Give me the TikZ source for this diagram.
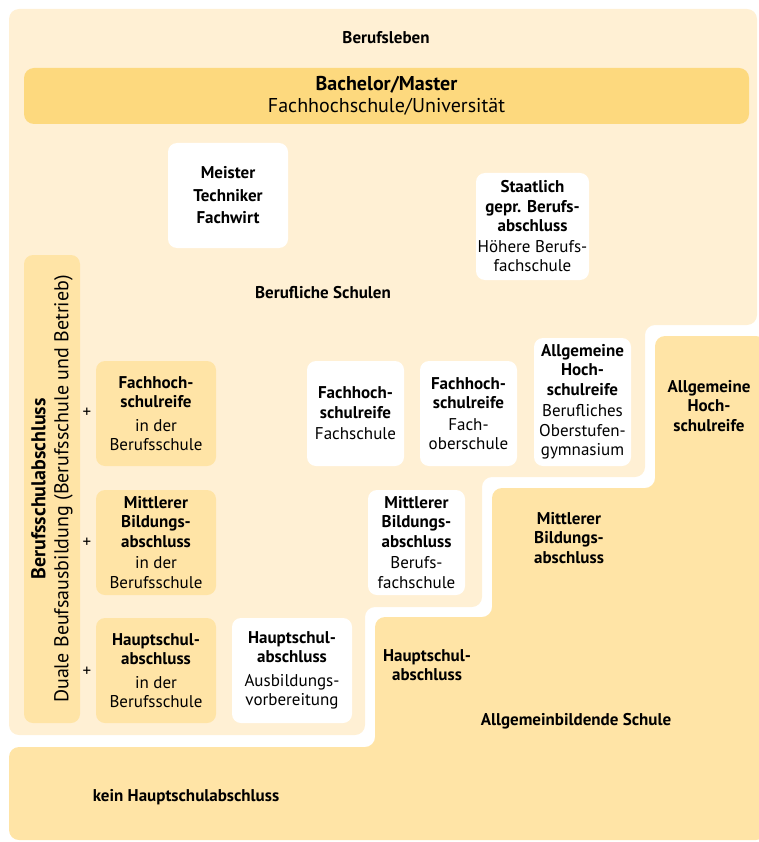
\documentclass[tikz,border=0pt]{standalone}
\usepackage{fontspec}
\setmainfont{PT Sans}
\usetikzlibrary{positioning}
\definecolor{lightbg}{HTML}{FFF0D4}
\definecolor{darkbg}{HTML}{FFE4A6}
\definecolor{bachelor}{HTML}{FDD97E}
\begin{document}
\begin{tikzpicture}[x=1pt,y=-1pt,on grid,
    font=\fontsize{17}{19.5}\selectfont,
    every node/.style={align=center,inner sep=0pt},
    whitebox/.style={fill=white,rounded corners=9pt,minimum width=97pt,minimum height=105pt},
    yellowbox/.style={whitebox,fill=darkbg,minimum width=120pt},
    bigtext/.style={font=\fontsize{20}{22}\selectfont},
    areatext/.style={font=\fontsize{17}{19.5}\selectfont\bfseries}]
  \useasboundingbox (0,0) rectangle (759,842);
  \fill[lightbg,rounded corners=10pt] (9,9) -- (757,9) -- (757,325) -- (645,325) -- (645,477)
    -- (482,477) -- (482,607) -- (365,607) -- (365,735) -- (9,735) -- cycle;
  \fill[darkbg,rounded corners=10pt] (375,617) -- (492,617) -- (492,488) -- (655,488) -- (655,336)
    -- (766,336) -- (766,840) -- (9,840) -- (9,747) -- (375,747) -- cycle;

  \node[areatext] (leben) at (386,38) {Berufsleben};
  \node[bigtext,fill=bachelor,rounded corners=10pt,minimum width=725pt,minimum height=56pt] (bama) at (386.5,96)
    {\textbf{Bachelor/Master}\\Fachhochschule/Universität};
  \node[whitebox,minimum width=120pt] (meister) at (228,195.5)
    {\textbf{Meister}\\[3pt]\textbf{Techniker}\\[3pt]\textbf{Fachwirt}};
  \node[whitebox,minimum width=113pt,minimum height=107pt] (staatl) at (532.5,226.5)
    {\textbf{Staatlich}\\\textbf{gepr. Berufs-}\\\textbf{abschluss}\\[1pt]Höhere Berufs-\\fachschule};
  \node[areatext] (schulen) at (323,293) {Berufliche Schulen};

  \node[yellowbox,bigtext,minimum width=468pt,minimum height=56pt,rotate=90] (duale) at (52,489)
    {\textbf{Berufsschulabschluss}\\[1pt]Duale Beufsausbildung (Berufsschule und Betrieb)};
  \node[yellowbox] (fhr1) at (156,413.5) {\textbf{Fachhoch-}\\\textbf{schulreife}\\[4pt]in der\\Berufsschule};
  \node[yellowbox] (mbr1) [below=129pt of fhr1] {\textbf{Mittlerer}\\\textbf{Bildungs-}\\\textbf{abschluss}\\[2pt]in der\\Berufsschule};
  \node[yellowbox] (hsr1) [below=128pt of mbr1] {\textbf{Hauptschul-}\\\textbf{abschluss}\\[4pt]in der\\Berufsschule};
  \node (plus1) at (87,413) {+};
  \node (plus2) at (87,543) {+};
  \node (plus3) at (87,672) {+};

  \node[whitebox,minimum width=120pt] (hsa) [right=136pt of hsr1] {\textbf{Hauptschul-}\\\textbf{abschluss}\\[4pt]Ausbildungs-\\vorbereitung};
  \node[whitebox] (fhs) at (355.5,413.5) {\textbf{Fachhoch-}\\\textbf{schulreife}\\[2pt]Fachschule};
  \node[whitebox] (fos) [right=113pt of fhs] {\textbf{Fachhoch-}\\\textbf{schulreife}\\[2pt]Fach-\\oberschule};
  \node[whitebox,minimum height=128pt] (bog) at (582.5,402)
    {\textbf{Allgemeine}\\\textbf{Hoch-}\\\textbf{schulreife}\\[2pt]Berufliches\\Oberstufen-\\gymnasium};
  \node[whitebox] (bfs) at (416.5,542.5) {\textbf{Mittlerer}\\\textbf{Bildungs-}\\\textbf{abschluss}\\[2pt]Berufs-\\fachschule};

  \node[areatext] (ahr) at (709,406) {Allgemeine\\Hoch-\\schulreife};
  \node[areatext] (mba) at (569,538) {Mittlerer\\Bildungs-\\abschluss};
  \node[areatext] (hsab) at (427,665) {Hauptschul-\\abschluss};
  \node[areatext] (allg) at (576,721) {Allgemeinbildende Schule};
  \node[areatext] (kein) at (186,797) {kein Hauptschulabschluss};
\end{tikzpicture}
\end{document}
